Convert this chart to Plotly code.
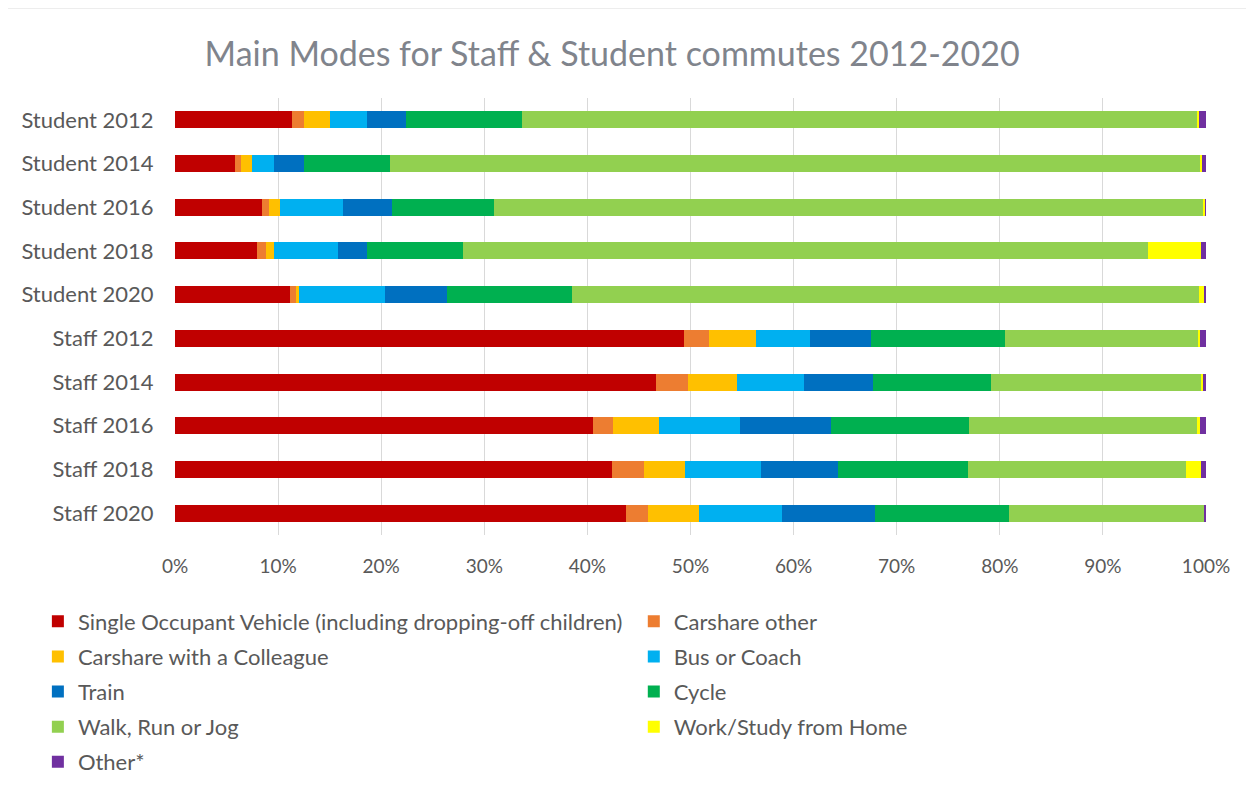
import plotly.graph_objects as go

groups = ["Student 2012", "Student 2014", "Student 2016", "Student 2018", "Student 2020",
          "Staff 2012", "Staff 2014", "Staff 2016", "Staff 2018", "Staff 2020"]

# share of commuters (%) per mode, same order as groups
single_occupant = [11.3, 5.8, 8.4, 8.0, 11.2, 49.4, 46.7, 40.5, 42.4, 43.7]
carshare_other = [1.2, 0.6, 0.7, 0.8, 0.5, 2.4, 3.1, 2.0, 3.1, 2.2]
carshare_colleague = [2.5, 1.1, 1.1, 0.8, 0.3, 4.6, 4.7, 4.4, 4.0, 4.9]
bus_coach = [3.6, 2.1, 6.1, 6.2, 8.4, 5.2, 6.5, 7.9, 7.3, 8.1]
train = [3.8, 2.9, 4.7, 2.8, 6.0, 5.9, 6.7, 8.8, 7.5, 9.0]
cycle = [11.3, 8.4, 9.9, 9.3, 12.1, 13.0, 11.4, 13.4, 12.6, 13.0]
walk = [65.4, 78.5, 68.9, 66.5, 60.8, 18.7, 20.4, 22.1, 21.2, 18.9]
work_home = [0.2, 0.2, 0.15, 5.1, 0.5, 0.2, 0.2, 0.3, 1.4, 0.0]
other = [0.7, 0.4, 0.05, 0.5, 0.3, 0.6, 0.3, 0.6, 0.5, 0.2]

modes = [
    ("Single Occupant Vehicle (including dropping-off children)", single_occupant, "#C00000"),
    ("Carshare other", carshare_other, "#ED7D31"),
    ("Carshare with a Colleague", carshare_colleague, "#FFC000"),
    ("Bus or Coach", bus_coach, "#00B0F0"),
    ("Train", train, "#0070C0"),
    ("Cycle", cycle, "#00B050"),
    ("Walk, Run or Jog", walk, "#92D050"),
    ("Work/Study from Home", work_home, "#FFFF00"),
    ("Other*", other, "#7030A0"),
]

FONT = "Lato, 'Open Sans', sans-serif"
GREY = "#595959"

fig = go.Figure()
for i, (name, vals, color) in enumerate(modes):
    # two legend columns, filled row by row like the Excel legend
    fig.add_trace(go.Bar(
        y=groups,
        x=[v / 100 for v in vals],
        name=name,
        orientation="h",
        marker=dict(color=color, line=dict(width=0)),
        legend="legend" if i % 2 == 0 else "legend2",
        legendgroup=name,
    ))

legend_common = dict(
    orientation="v",
    yanchor="top",
    y=-0.15,
    xanchor="left",
    traceorder="grouped",
    tracegroupgap=3.5,
    font=dict(size=22, color=GREY, family=FONT),
    bgcolor="rgba(0,0,0,0)",
)

fig.update_layout(
    barmode="stack",
    bargap=0.61,
    width=1246,
    height=779,
    margin=dict(l=167, r=48, t=90, b=252, autoexpand=False),
    paper_bgcolor="white",
    plot_bgcolor="white",
    font=dict(family=FONT, color=GREY, size=18),
    title=dict(
        text="Main Modes for Staff & Student commutes 2012-2020",
        xref="paper", x=0.424, xanchor="center",
        y=0.941, yanchor="middle",
        font=dict(size=34, color="#80848c", family=FONT),
    ),
    legend=dict(legend_common, x=-0.133),
    legend2=dict(legend_common, x=0.445),
    shapes=[dict(
        type="rect", xref="paper", yref="paper",
        x0=-0.165, x1=1.04, y0=-1.0, y1=1.206,
        line=dict(color="#d9d9d9", width=1), fillcolor="rgba(0,0,0,0)",
        layer="below",
    )],
)

fig.update_xaxes(
    range=[0, 1],
    tickformat=".0%",
    dtick=0.1,
    showgrid=True, gridcolor="#d9d9d9", gridwidth=1,
    zeroline=False,
    tickfont=dict(size=19, color=GREY),
    ticks="outside", ticklen=14, tickcolor="white",
)
fig.update_yaxes(
    autorange="reversed",
    showgrid=False,
    tickfont=dict(size=22, color=GREY),
    ticks="outside", ticklen=16, tickcolor="white",
)

fig.write_html("out.html")
